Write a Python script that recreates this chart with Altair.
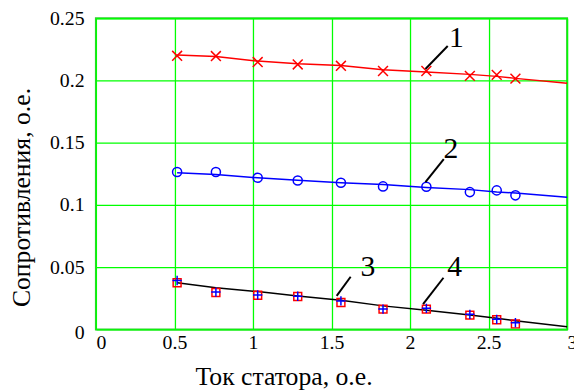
import altair as alt
import pandas as pd

# Measured points (stator current, o.e.)
x_pts = [0.517, 0.764, 1.030, 1.285, 1.560, 1.828, 2.104, 2.381, 2.552, 2.671]
s1_pts = [0.2198, 0.2196, 0.2148, 0.2129, 0.2118, 0.2076, 0.2076, 0.2037, 0.2045, 0.2015]
s2_pts = [0.1265, 0.1265, 0.1218, 0.1196, 0.1178, 0.1149, 0.1146, 0.1103, 0.1117, 0.1077]
s3_pts = [0.0393, 0.0300, 0.0277, 0.0266, 0.0229, 0.0163, 0.0169, 0.0121, 0.0081, 0.0054]
s4_pts = [0.0375, 0.0296, 0.0274, 0.0264, 0.0216, 0.0163, 0.0163, 0.0115, 0.0078, 0.0044]

# Calculated curves
x_line = [0.517, 0.764, 1.030, 1.285, 1.560, 1.828, 2.104, 2.381, 2.552, 2.671, 3.0]
l1 = [0.2204, 0.2192, 0.2156, 0.2134, 0.2121, 0.2087, 0.2068, 0.2049, 0.2033, 0.2017, 0.1978]
l2 = [0.1258, 0.1244, 0.1218, 0.1199, 0.1178, 0.1165, 0.1141, 0.1123, 0.1104, 0.1096, 0.1061]
l34 = [0.0375, 0.0335, 0.0304, 0.0269, 0.0235, 0.0189, 0.0153, 0.0115, 0.0089, 0.0070, 0.0022]

# Curve labels and leader lines
lab_text = ["1", "2", "3", "4"]
lab_x = [2.295, 2.261, 1.732, 2.284]
lab_y = [0.2269, 0.1374, 0.0428, 0.0428]
lead_x1 = [2.098, 2.098, 1.533, 2.083]
lead_y1 = [0.2092, 0.1183, 0.0269, 0.0203]
lead_x2 = [2.240, 2.215, 1.622, 2.213]
lead_y2 = [0.2277, 0.1369, 0.0423, 0.0415]

x_ticks = [0, 0.5, 1, 1.5, 2, 2.5, 3]
y_ticks = [0, 0.05, 0.1, 0.15, 0.2, 0.25]

FONT = "'Liberation Serif', 'Times New Roman', serif"

pts = pd.DataFrame({"x": x_pts, "s1": s1_pts, "s2": s2_pts, "s3": s3_pts, "s4": s4_pts})
lines = pd.DataFrame({"x": x_line, "l1": l1, "l2": l2, "l34": l34})
labs = pd.DataFrame({"t": lab_text, "x": lab_x, "y": lab_y,
                     "x1": lead_x1, "y1": lead_y1, "x2": lead_x2, "y2": lead_y2})

xaxis = alt.Axis(values=x_ticks, labelExpr="'' + datum.value", title="Ток статора, о.е.",
                 labelFlush=False, labelPadding=3,
                 labelAlign={"condition": {"test": "datum.value == 0 || datum.value == 3", "value": "left"}, "value": "center"},
                 titleX=190, titleY=56, titleBaseline="alphabetic")
yaxis = alt.Axis(values=y_ticks, labelExpr="'' + datum.value", title="Сопротивления, о.е.",
                 labelFlush=False, labelPadding=12,
                 labelOffset={"condition": [{"test": "datum.value == 0", "value": 3}], "value": 0},
                 titleX=-67, titleY=181, titleBaseline="alphabetic", titleAngle=270)

xs = alt.Scale(domain=[0, 3], nice=False, zero=False)
ys = alt.Scale(domain=[0, 0.25], nice=False, zero=False)


def X(f):
    return alt.X(f, type="quantitative", scale=xs, axis=xaxis)


def Y(f):
    return alt.Y(f, type="quantitative", scale=ys, axis=yaxis)


base_l = alt.Chart(lines)
base_p = alt.Chart(pts)

X_PATH = "M-1,-1L1,1M-1,1L1,-1"
PLUS_PATH = "M-1,0L1,0M0,-1L0,1"

layers = [
    base_l.mark_line(color="#ff0000", strokeWidth=1.5).encode(x=X("x"), y=Y("l1")),
    base_p.mark_point(shape=X_PATH, color="#ff0000", filled=False, size=100, strokeWidth=1.5, opacity=1).encode(x=X("x"), y=Y("s1")),
    base_l.mark_line(color="#0000ff", strokeWidth=1.5).encode(x=X("x"), y=Y("l2")),
    base_p.mark_point(shape="circle", color="#0000ff", filled=False, size=85, strokeWidth=1.5, opacity=1).encode(x=X("x"), y=Y("s2")),
    base_l.mark_line(color="#000000", strokeWidth=1.5).encode(x=X("x"), y=Y("l34")),
    base_p.mark_point(shape="square", color="#ff0000", filled=False, size=64, strokeWidth=1.5, opacity=1).encode(x=X("x"), y=Y("s4")),
    base_p.mark_point(shape=PLUS_PATH, color="#0000ff", filled=False, size=90, strokeWidth=1.5, opacity=1).encode(x=X("x"), y=Y("s3")),
    alt.Chart(labs).mark_rule(color="black", strokeWidth=2).encode(x=X("x1"), y=Y("y1"), x2="x2", y2="y2"),
    alt.Chart(labs).mark_text(font=FONT, fontSize=30, color="black", align="center", baseline="alphabetic").encode(
        x=X("x"), y=Y("y"), text="t"),
]

chart = alt.layer(*layers).properties(
    width=477, height=315,
    autosize=alt.AutoSizeParams(type="none"),
    padding={"left": 89, "top": 8, "right": 7, "bottom": 61},
).configure_view(
    stroke="#33cc33", strokeWidth=2
).configure_axis(
    domain=False, ticks=False, grid=True, gridColor="#00ff00", gridWidth=1.3, gridOpacity=1,
    labelFont=FONT, labelFontSize=20, labelColor="black",
    titleFont=FONT, titleFontSize=26, titleFontWeight="normal", titleColor="black",
)

chart.save("out.html", embed_options={"renderer": "svg", "actions": False})
